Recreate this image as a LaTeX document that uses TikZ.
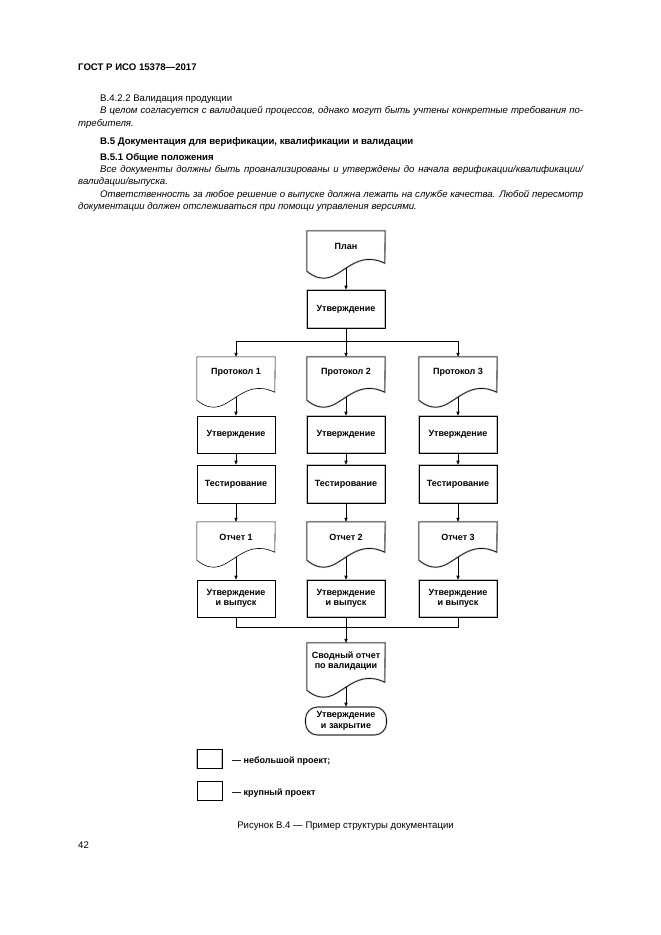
\documentclass[tikz,border=0pt]{standalone}
\usepackage{fontspec}
\setmainfont{Liberation Sans}
\usetikzlibrary{arrows.meta}
\newcommand{\docshape}[3]{%
  \begin{scope}[shift={(#1.south west)}]
    \draw[docline,#3] (#1.north east) -- (78,8-#2) .. controls (60.8,16-#2) and (49.9,10-#2) .. (39,3-#2) .. controls (28.1,-4-#2) and (17.2,-14-#2) .. (0,-#2) -- (#1.north west) -- cycle;
  \end{scope}}
\begin{document}
\begin{tikzpicture}[x=1pt,y=1pt,
  lbl/.style={font=\fontsize{9}{10.5}\selectfont\bfseries, align=center},
  box/.style={lbl, draw, line width=0.6pt, minimum width=78pt, minimum height=37pt, inner sep=1pt},
  docn/.style={lbl, minimum width=78pt, minimum height=30pt, inner sep=0pt},
  docline/.style={line width=0.6pt},
  halo/.style={preaction={draw=black!25, line width=1.8pt}},
  term/.style={box, rounded corners=12pt, minimum height=28pt, minimum width=81pt},
  arr/.style={-{Triangle[length=4pt,width=3.2pt]}, line width=0.6pt},
  ln/.style={line width=0.6pt},
  txt/.style={inner sep=0pt, anchor=base west, font=\fontsize{9.6}{12}\selectfont},
  btxt/.style={txt, font=\fontsize{9.6}{12}\selectfont\bfseries},
  legbox/.style={draw, line width=0.6pt, minimum width=25pt, minimum height=19pt, inner sep=0pt}
]
\useasboundingbox[fill=white] (0,0) rectangle (661,-935);

% ---- page text ----
\node[btxt] (hdr) at (78,-70) {ГОСТ Р ИСО 15378—2017};
\node[txt] (t1) at (100,-101) {В.4.2.2 Валидация продукции};
\node[txt] (t2) at (100,-113.5) {\hbox to 483pt{\itshape В целом согласуется с валидацией процессов, однако могут быть учтены конкретные требования по-}};
\node[txt] (t3) at (78,-126) {\itshape требителя.};
\node[btxt] (t4) at (100,-144) {В.5 Документация для верификации, квалификации и валидации};
\node[btxt] (t5) at (100,-160) {В.5.1 Общие положения};
\node[txt] (t6) at (100,-172.5) {\hbox to 483pt{\itshape Все документы должны быть проанализированы и утверждены до начала верификации/квалификации/}};
\node[txt] (t7) at (78,-184.5) {\itshape валидации/выпуска.};
\node[txt] (t8) at (100,-197) {\hbox to 483pt{\itshape Ответственность за любое решение о выпуске должна лежать на службе качества. Любой пересмотр}};
\node[txt] (t9) at (78,-209) {\itshape документации должен отслеживаться при помощи управления версиями.};

% ---- flowchart ----
\node[docn] (plan) at (346,-246) {План};
\docshape{plan}{10}{halo}
\node[box, halo, minimum height=38pt] (ap0) at (346,-309) {Утверждение};
\coordinate (split) at (346,-341);

\node[docn] (p1) at (236,-372) {Протокол 1};
\docshape{p1}{13}{}
\node[docn] (p2) at (346,-372) {Протокол 2};
\docshape{p2}{13}{halo}
\node[docn] (p3) at (458,-372) {Протокол 3};
\docshape{p3}{13}{halo}

\node[box] (a1) at (236,-434.5) {Утверждение};
\node[box, halo] (a2) at (346,-434.5) {Утверждение};
\node[box, halo] (a3) at (458,-434.5) {Утверждение};

\node[box, minimum height=38pt] (s1) at (236,-484) {Тестирование};
\node[box, halo, minimum height=38pt] (s2) at (346,-484) {Тестирование};
\node[box, halo, minimum height=38pt] (s3) at (458,-484) {Тестирование};

\node[docn] (r1) at (236,-537) {Отчет 1};
\docshape{r1}{8}{}
\node[docn] (r2) at (346,-537) {Отчет 2};
\docshape{r2}{8}{halo}
\node[docn] (r3) at (458,-537) {Отчет 3};
\docshape{r3}{8}{halo}

\node[box] (f1) at (236,-598.5) {Утверждение\\и выпуск};
\node[box, halo] (f2) at (346,-598.5) {Утверждение\\и выпуск};
\node[box, halo] (f3) at (458,-598.5) {Утверждение\\и выпуск};
\coordinate (join) at (346,-627);

\node[docn, minimum height=36pt] (sum) at (346,-661) {Сводный отчет\\по валидации};
\docshape{sum}{11}{halo}
\node[term, halo] (close) at (346,-721) {Утверждение\\и закрытие};

% connectors
\draw[arr] ([yshift=-7]plan.south) -- (ap0);
\draw[ln] (ap0) -- (split);
\draw[arr] (split) -| (p1.north);
\draw[arr] (split) -- (p2.north);
\draw[arr] (split) -| (p3.north);
\draw[arr] ([yshift=-10]p1.south) -- (a1);
\draw[arr] ([yshift=-10]p2.south) -- (a2);
\draw[arr] ([yshift=-10]p3.south) -- (a3);
\draw[arr] (a1) -- (s1);
\draw[arr] (a2) -- (s2);
\draw[arr] (a3) -- (s3);
\draw[arr] (s1) -- (r1);
\draw[arr] (s2) -- (r2);
\draw[arr] (s3) -- (r3);
\draw[arr] ([yshift=-5]r1.south) -- (f1);
\draw[arr] ([yshift=-5]r2.south) -- (f2);
\draw[arr] ([yshift=-5]r3.south) -- (f3);
\draw[ln] (f1.south) |- (join);
\draw[ln] (f3.south) |- (join);
\draw[ln] (f2.south) -- (join);
\draw[arr] (join) -- (sum.north);
\draw[arr] ([yshift=-8]sum.south) -- (close);

% legend
\node[legbox, halo] (lg1) at (209.5,-759) {};
\node[legbox] (lg2) at (209.5,-791) {};
\node[txt, font=\fontsize{9}{10.5}\selectfont\bfseries] (lt1) at (232,-763) {— небольшой проект;};
\node[txt, font=\fontsize{9}{10.5}\selectfont\bfseries] (lt2) at (232,-795) {— крупный проект};

% caption
\node[inner sep=0pt, anchor=base, font=\fontsize{9.6}{12}\selectfont] (cap) at (345.5,-828) {Рисунок В.4 — Пример структуры документации};
\node[txt] (pg) at (78,-848) {42};
\end{tikzpicture}
\end{document}
